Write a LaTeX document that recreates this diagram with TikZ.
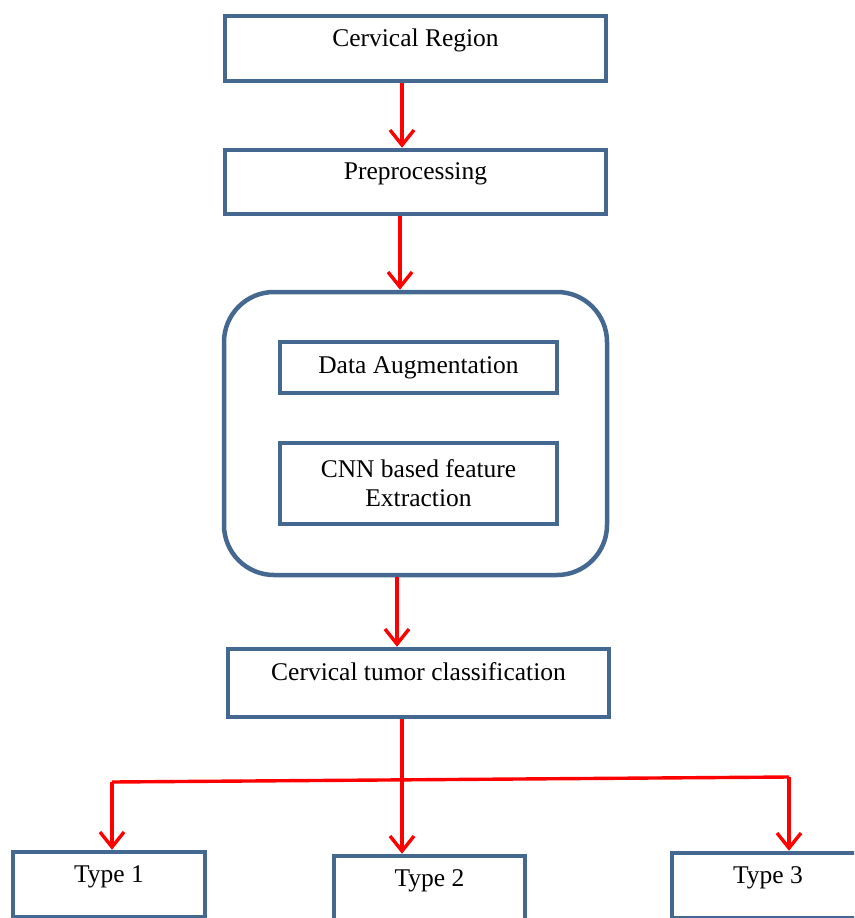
\documentclass[tikz,border=0pt]{standalone}
\usepackage{fontspec}
\setmainfont{Liberation Serif}
\usetikzlibrary{
    arrows.meta,
    calc
}
\definecolor{BoxBlue}{RGB}{68,104,143}
\definecolor{FlowRed}{RGB}{255,0,0}

\begin{document}
\begin{tikzpicture}[
    x=1pt, y=-1pt,
    >={Straight Barb[length=15pt,width=24pt]},
    font=\fontsize{25.5}{29}\selectfont,
    stagebox/.style={draw=BoxBlue, line width=4.5pt, inner sep=0pt,
        text height=17pt, text depth=22pt},
    innerbox/.style={draw=BoxBlue, line width=4.5pt, inner sep=0pt,
        align=center},
    groupbox/.style={draw=BoxBlue, line width=4.5pt, inner sep=0pt,
        rounded corners=50pt},
    flow/.style={FlowRed, line width=3.4pt}
]

\useasboundingbox (0,0) rectangle (854,918);
\clip (0,0) rectangle (854,918);

% main column
\node[stagebox, minimum width=381, minimum height=65]
    (region) at (415.5,48.5) {Cervical Region};
\node[stagebox, minimum width=381, minimum height=64]
    (prep) at (415.5,182) {Preprocessing};

\node[groupbox, minimum width=383, minimum height=283]
    (group) at (415.5,433.5) {};
\node[innerbox, minimum width=277, minimum height=51]
    (augment) at (418.5,367.5) {Data Augmentation};
\node[innerbox, minimum width=277, minimum height=81]
    (cnn) at (418.5,483.5) {CNN based feature\\Extraction};

\node[stagebox, minimum width=381, minimum height=68]
    (classify) at (418.5,683) {Cervical tumor classification};

% the three classes
\node[stagebox, minimum width=192, minimum height=65]
    (type1) at (109,884.5) {Type 1};
\node[stagebox, minimum width=191, minimum height=65]
    (type2) at (429.5,888.5) {Type 2};
\node[stagebox, minimum width=192, minimum height=65]
    (type3) at (768,885.5) {Type 3};

\draw[flow, ->]
    ($(region.south)+(-13.5,0)$) -- ($(prep.north)+(-13.5,0)$);
\draw[flow, ->]
    ($(prep.south)+(-15.5,0)$) -- ($(group.north)+(-15.5,0)$);
\draw[flow, ->]
    ($(group.south)+(-18.5,0)$) -- ($(classify.north)+(-21.5,0)$);

\coordinate (left) at (112,782);
\coordinate (right) at (789,777);
\coordinate (split) at (402,779.9);

\draw[flow] ($(classify.south)+(-16.5,0)$) -- (split);
\draw[flow] (left) -- (right);
\draw[flow, ->] (left) -- (left |- type1.north);
\draw[flow, ->] (split) -- (split |- type2.north);
\draw[flow, ->] (right) -- (right |- type3.north);

\end{tikzpicture}
\end{document}
